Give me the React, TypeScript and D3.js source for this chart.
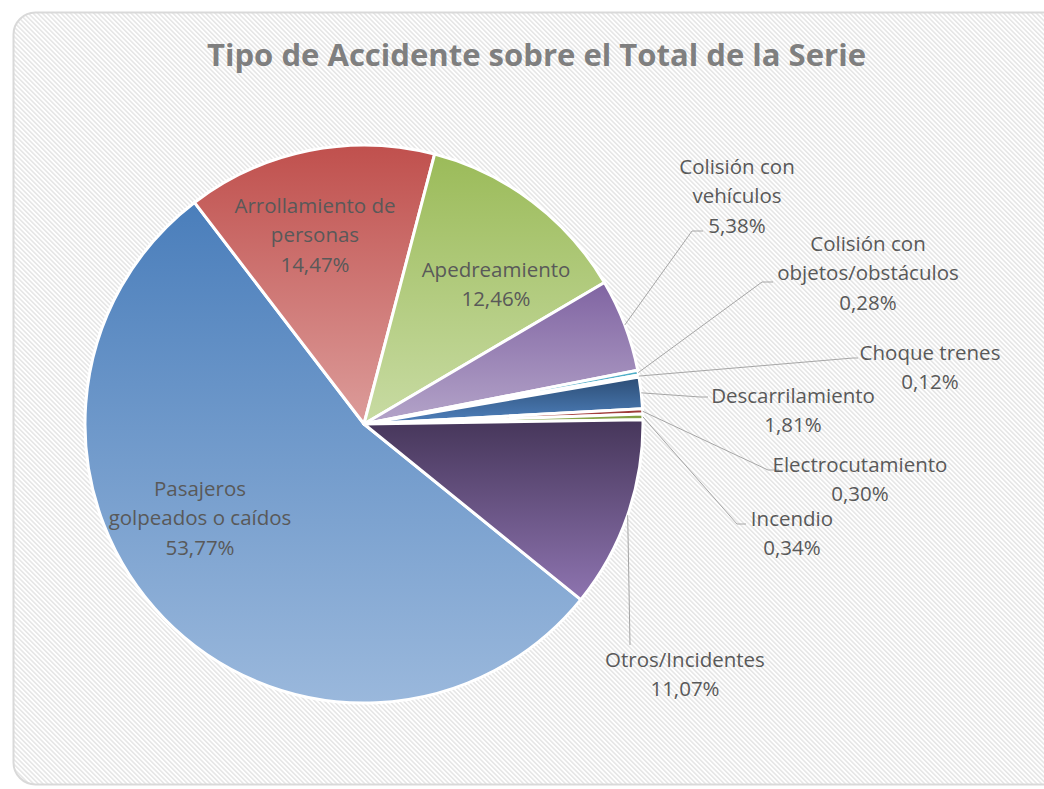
import React from "react";
import * as d3 from "d3";

const categories = [
  "Pasajeros golpeados o caídos",
  "Arrollamiento de personas",
  "Apedreamiento",
  "Colisión con vehículos",
  "Colisión con objetos/obstáculos",
  "Choque trenes",
  "Descarrilamiento",
  "Electrocutamiento",
  "Incendio",
  "Otros/Incidentes",
];
const values = [53.77, 14.47, 12.46, 5.38, 0.28, 0.12, 1.81, 0.3, 0.34, 11.07];
const valueLabels = ["53,77%", "14,47%", "12,46%", "5,38%", "0,28%", "0,12%", "1,81%", "0,30%", "0,34%", "11,07%"];
const labelLines = [
  ["Pasajeros", "golpeados o caídos"],
  ["Arrollamiento de", "personas"],
  ["Apedreamiento"],
  ["Colisión con", "vehículos"],
  ["Colisión con", "objetos/obstáculos"],
  ["Choque trenes"],
  ["Descarrilamiento"],
  ["Electrocutamiento"],
  ["Incendio"],
  ["Otros/Incidentes"],
];
const title = "Tipo de Accidente sobre el Total de la Serie";

// styles
const gradTop = ["#4a7ebb", "#c0504d", "#9bbb59", "#8064a2", "#4bacc6", "#f79646", "#2c4d75", "#953735", "#77933c", "#46365a"];
const gradBottom = ["#9ab8dc", "#dc9c9a", "#c8dba3", "#b4a4c9", "#93cddd", "#fac08f", "#4f81bd", "#c0504d", "#9bbb59", "#8e74b0"];

// layout (label anchor centers / first baselines, leader elbows)
const labelPos: [number, number][] = [
  [200, 496], [315, 213], [496, 277], [737, 174], [868, 251],
  [930, 360], [793, 403], [860, 472], [792, 526], [685, 667],
];
const leaderEnds: ([number, number, number, number] | null)[] = [
  null, null, null,
  [692, 231, 703, 231],
  [762, 282, 773, 282],
  [853, 358, 858, 358],
  [700, 397, 708, 397],
  [768, 470, 779, 470],
  [737, 524, 746, 524],
  [630, 645, 630, 645],
];

export default function App() {
  const W = 1044, H = 789;
  const cx = 364, cy = 424, R = 279;
  const start = (129 * Math.PI) / 180;
  const pie = d3.pie<number>().sort(null).value((d) => d).startAngle(start).endAngle(start + 2 * Math.PI);
  const arcs = pie(values);
  const arc = d3.arc<d3.PieArcDatum<number>>().innerRadius(0).outerRadius(R);
  const lineH = 29.3;

  return (
    <svg width={W} height={H} style={{ position: "absolute", left: 0, top: 0 }} fontFamily="'Open Sans', sans-serif">
      <defs>
        <pattern id="hatch" width="3.3" height="3.3" patternUnits="userSpaceOnUse" patternTransform="rotate(-45)">
          <rect width="3.3" height="3.3" fill="#ffffff" />
          <rect width="1.5" height="3.3" fill="#e5e5e5" />
        </pattern>
        {arcs.map((a, i) => (
          <linearGradient key={i} id={`g${i}`} x1="0" y1="0" x2="0" y2="1">
            <stop offset="0" stopColor={gradTop[i]} />
            <stop offset="1" stopColor={gradBottom[i]} />
          </linearGradient>
        ))}
      </defs>
      <rect x={0} y={0} width={W} height={H} fill="#ffffff" />
      <rect x={13.5} y={12.5} width={1100} height={772} rx={22} ry={22} fill="url(#hatch)" stroke="#d9d9d9" strokeWidth={2} />
      <text x={536.5} y={66} textAnchor="middle" fontSize={30} fontWeight="bold" fill="#7f7f7f" textLength={659} lengthAdjust="spacingAndGlyphs">
        {title}
      </text>
      <g transform={`translate(${cx},${cy})`}>
        {arcs.map((a, i) => (
          <path key={i} d={arc(a) || ""} fill={`url(#g${i})`} stroke="#ffffff" strokeWidth={3} strokeLinejoin="round">
            <title>{categories[i]}</title>
          </path>
        ))}
      </g>
      {arcs.map((a, i) => {
        const le = leaderEnds[i];
        if (!le) return null;
        const mid = (a.startAngle + a.endAngle) / 2;
        const px = cx + R * Math.sin(mid);
        const py = cy - R * Math.cos(mid);
        return (
          <polyline key={i} points={`${px},${py} ${le[0]},${le[1]} ${le[2]},${le[3]}`} fill="none" stroke="#a6a6a6" strokeWidth={1} />
        );
      })}
      {arcs.map((a, i) => {
        const [x, y] = labelPos[i];
        const lines = [...labelLines[i], valueLabels[i]];
        return (
          <text key={i} x={x} y={y} textAnchor="middle" fontSize={20.5} fill="#595959">
            {lines.map((l, j) => (
              <tspan key={j} x={x} y={y + j * lineH}>{l}</tspan>
            ))}
          </text>
        );
      })}
    </svg>
  );
}
